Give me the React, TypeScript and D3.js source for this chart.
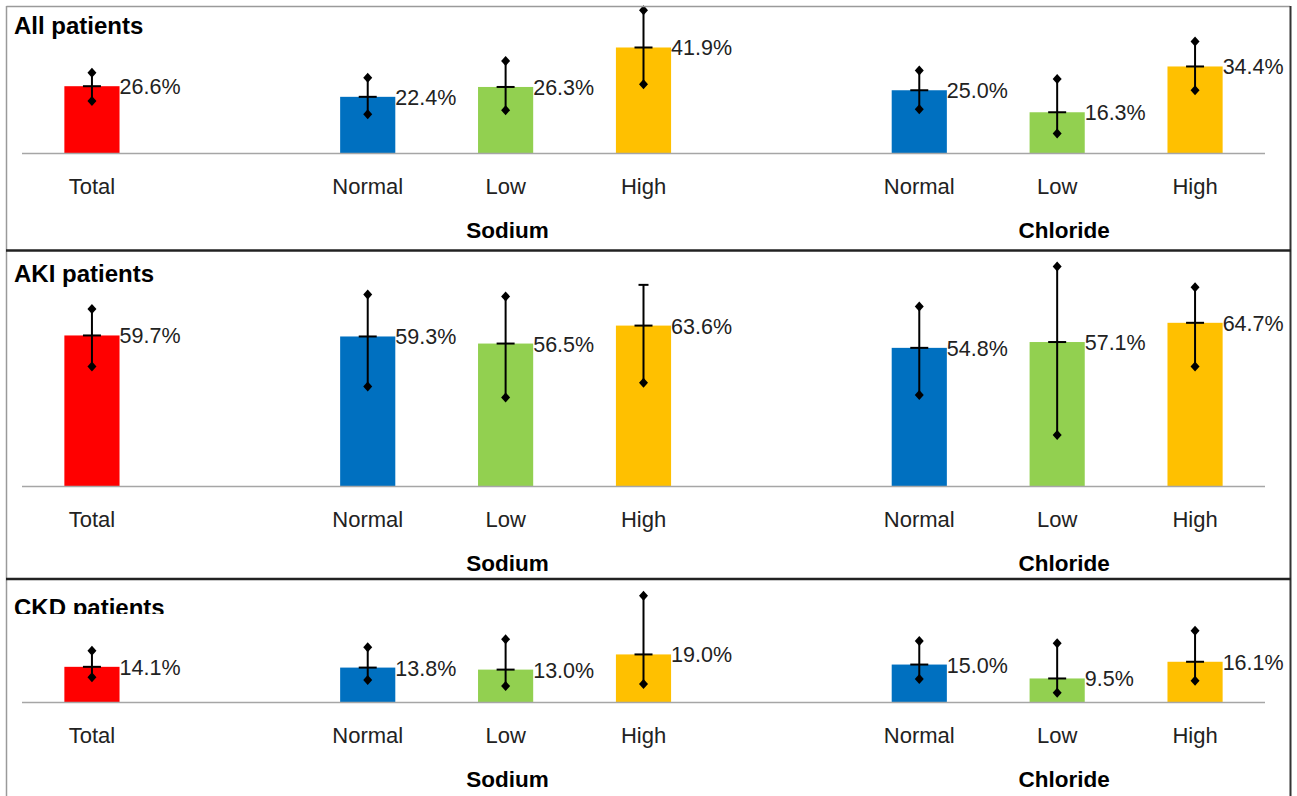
import React from 'react';
import * as d3 from 'd3';

// slot keys along the x axis (gaps separate the groups)
const slots = ['Total', 'gap1', 'NaNormal', 'NaLow', 'NaHigh', 'gap2', 'ClNormal', 'ClLow', 'ClHigh'];
const barSlots = ['Total', 'NaNormal', 'NaLow', 'NaHigh', 'ClNormal', 'ClLow', 'ClHigh'];
const barLabels = ['Total', 'Normal', 'Low', 'High', 'Normal', 'Low', 'High'];
const barColors = ['#ff0000', '#0070c0', '#92d050', '#ffc000', '#0070c0', '#92d050', '#ffc000'];
const groupNames = ['Sodium', 'Chloride'];
const groupCenters = ['NaLow', 'ClLow'];

const allValues = [26.6, 22.4, 26.3, 41.9, 25.0, 16.3, 34.4];
const allUpper = [31.9, 29.9, 36.6, 56.6, 32.8, 29.4, 44.3];
const allLower = [20.8, 15.5, 17.1, 27.4, 17.5, 7.9, 25.0];

const akiValues = [59.7, 59.3, 56.5, 63.6, 54.8, 57.1, 64.7];
const akiUpper = [70.2, 75.9, 75.1, 79.7, 71.1, 87.0, 78.8];
const akiLower = [47.4, 39.5, 35.2, 41.0, 36.2, 20.4, 47.4];

const ckdValues = [14.1, 13.8, 13.0, 19.0, 15.0, 9.5, 16.1];
const ckdUpper = [20.5, 21.8, 25.0, 42.2, 24.3, 23.4, 28.4];
const ckdLower = [10.0, 8.9, 6.5, 7.3, 9.3, 3.9, 8.6];

const W = 1297;
const H = 796;
const FONT = '"Liberation Sans", Arial, sans-serif';
const PX_PER_PCT = 2.53;

const panels = [
  { title: 'All patients', values: allValues, upper: allUpper, lower: allLower, baseline: 153.5, titleY: 34, flatTop: [] as number[] },
  { title: 'AKI patients', values: akiValues, upper: akiUpper, lower: akiLower, baseline: 486.5, titleY: 282, flatTop: [3] },
  { title: 'CKD patients', values: ckdValues, upper: ckdUpper, lower: ckdLower, baseline: 702.5, titleY: 616, flatTop: [] as number[] },
];

const x = d3.scaleBand<string>().domain(slots).range([23, 1264]).paddingInner(0.6).paddingOuter(0.3);

const Diamond = ({ cx, cy }: { cx: number; cy: number }) => (
  <path d={`M${cx},${cy - 5}L${cx + 4.5},${cy}L${cx},${cy + 5}L${cx - 4.5},${cy}Z`} fill="#000" />
);

const Panel = ({ p, idx }: { p: typeof panels[number]; idx: number }) => {
  const y = d3.scaleLinear().domain([0, 100]).range([p.baseline, p.baseline - 100 * PX_PER_PCT]);
  const bw = x.bandwidth();
  return (
    <g>
      {idx === 2 ? (
        <text x={14} y={p.titleY} fontFamily={FONT} fontWeight="bold" fontSize={24} fill="#000" clipPath="url(#ckdClip)">
          {p.title}
        </text>
      ) : (
        <text x={14} y={p.titleY} fontFamily={FONT} fontWeight="bold" fontSize={24} fill="#000">
          {p.title}
        </text>
      )}
      {barSlots.map((s, i) => {
        const x0 = x(s)!;
        const cx = x0 + bw / 2;
        const v = p.values[i];
        return (
          <g key={s}>
            <rect x={x0} y={y(v)} width={bw} height={y(0) - y(v)} fill={barColors[i]} />
            <line x1={cx} x2={cx} y1={y(p.upper[i])} y2={y(p.lower[i])} stroke="#000" strokeWidth={2} />
            <line x1={cx - 9} x2={cx + 9} y1={y(v)} y2={y(v)} stroke="#000" strokeWidth={2} />
            {p.flatTop.includes(i) ? (
              <line x1={cx - 5} x2={cx + 5} y1={y(p.upper[i])} y2={y(p.upper[i])} stroke="#000" strokeWidth={2} />
            ) : (
              <Diamond cx={cx} cy={y(p.upper[i])} />
            )}
            <Diamond cx={cx} cy={y(p.lower[i])} />
            <text x={x0 + bw} y={y(v) + 8} fontFamily={FONT} fontSize={21.5} fill="#222">
              {v.toFixed(1)}%
            </text>
            <text x={cx} y={p.baseline + 40} textAnchor="middle" fontFamily={FONT} fontSize={22} fill="#222">
              {barLabels[i]}
            </text>
          </g>
        );
      })}
      <line x1={22} x2={1265} y1={p.baseline} y2={p.baseline} stroke="#a6a6a6" strokeWidth={1.5} />
      {groupNames.map((g, i) => (
        <text
          key={g}
          x={x(groupCenters[i])! + bw / 2 + (i === 0 ? 2 : 7)}
          y={p.baseline + 84}
          textAnchor="middle"
          fontFamily={FONT}
          fontWeight="bold"
          fontSize={22.5}
          fill="#000"
        >
          {g}
        </text>
      ))}
    </g>
  );
};

const App = () => {
  return (
    <svg width={W} height={H} style={{ position: 'absolute', left: 0, top: 0, background: '#fff' }}>
      <defs>
        <clipPath id="ckdClip">
          <rect x={0} y={590} width={400} height={24} />
        </clipPath>
      </defs>
      <rect x={0} y={0} width={W} height={H} fill="#fff" />
      {panels.map((p, i) => (
        <Panel key={p.title} p={p} idx={i} />
      ))}
      {/* frame */}
      <line x1={6.5} x2={1290} y1={6.5} y2={6.5} stroke="#9a9a9a" strokeWidth={1.5} />
      <line x1={6.5} x2={6.5} y1={6} y2={H} stroke="#9a9a9a" strokeWidth={1.5} />
      <line x1={1290.5} x2={1290.5} y1={6} y2={H} stroke="#333" strokeWidth={2} />
      <line x1={6} x2={1291} y1={250.5} y2={250.5} stroke="#222" strokeWidth={2.5} />
      <line x1={6} x2={1291} y1={579} y2={579} stroke="#222" strokeWidth={2.5} />
    </svg>
  );
};

export default App;
